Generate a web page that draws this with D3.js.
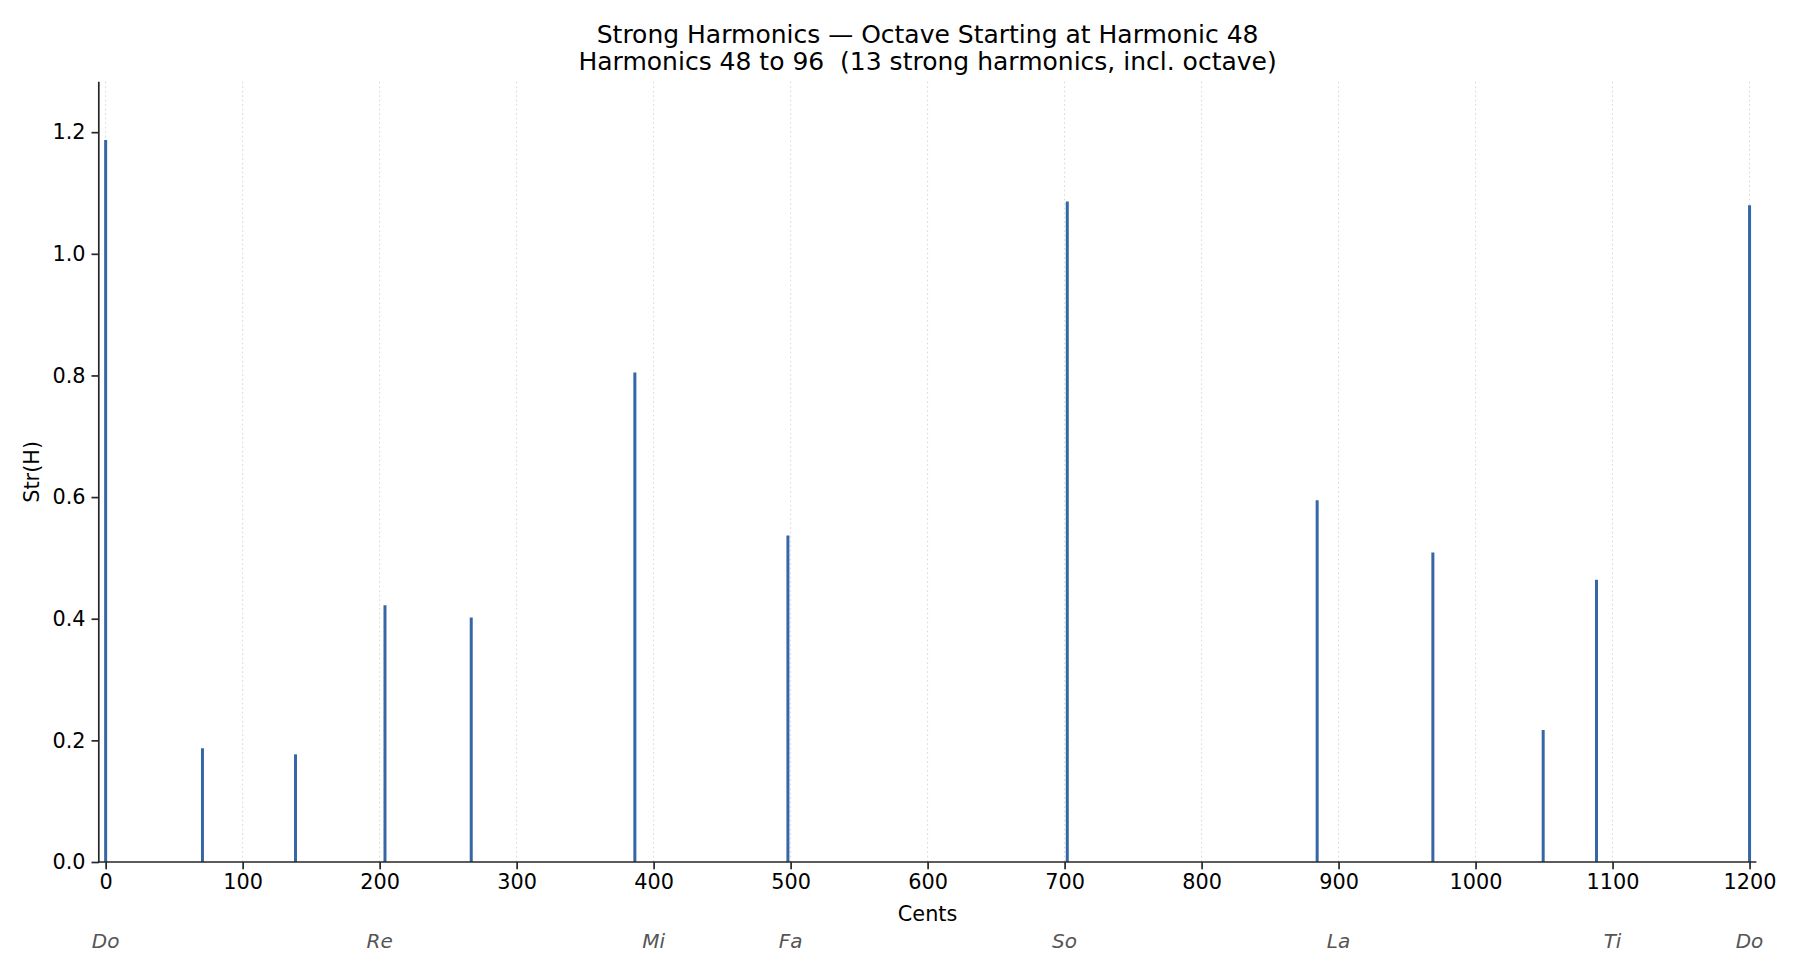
<!DOCTYPE html>
<html>
<head>
<meta charset="utf-8">
<script src="https://cdn.jsdelivr.net/npm/d3@7"></script>
<style>
  html, body { margin: 0; padding: 0; background: #fff; }
  svg { display: block; font-family: "DejaVu Sans", sans-serif; }
</style>
</head>
<body>
<svg id="chart" width="1800" height="975"></svg>
<script>
// ---- data ----
const harmonics = [48, 50, 52, 54, 56, 60, 64, 72, 80, 84, 88, 90, 96];
const cents = [0, 70.67, 138.57, 203.91, 266.87, 386.31, 498.04, 701.96, 884.36, 968.83, 1049.36, 1088.27, 1200];
const strength = [1.187, 0.187, 0.177, 0.422, 0.402, 0.805, 0.537, 1.086, 0.595, 0.509, 0.217, 0.464, 1.080];
const xTicks = [0, 100, 200, 300, 400, 500, 600, 700, 800, 900, 1000, 1100, 1200];
const yTicks = [0.0, 0.2, 0.4, 0.6, 0.8, 1.0, 1.2];
const noteNames = ["Do", "Re", "Mi", "Fa", "So", "La", "Ti", "Do"];
const notePositions = [0, 200, 400, 500, 700, 900, 1100, 1200];
const titleLines = ["Strong Harmonics \u2014 Octave Starting at Harmonic 48",
                    "Harmonics 48 to 96  (13 strong harmonics, incl. octave)"];

(function () {
// ---- layout ----
const svg = d3.select("#chart");
const pL = 98.8, pR = 1756.4, pT = 81.7, pB = 862;

const x = d3.scaleLinear().domain([-5, 1205]).range([pL, pR]);
const y = d3.scaleLinear().domain([0, 1.283]).range([pB, pT]);

// grid (vertical, dotted)
svg.append("g").selectAll("line").data(xTicks).join("line")
  .attr("x1", d => x(d)).attr("x2", d => x(d))
  .attr("y1", pT).attr("y2", pB)
  .attr("stroke", "#d9d9d9").attr("stroke-width", 1)
  .attr("stroke-dasharray", "1.7,2.8");

// stems
svg.append("g").selectAll("line").data(cents).join("line")
  .attr("x1", d => x(d)).attr("x2", d => x(d))
  .attr("y1", y(0)).attr("y2", (d, i) => y(strength[i]))
  .attr("stroke", "#3567a6").attr("stroke-width", 3);

// axes
const xAxis = d3.axisBottom(x).tickValues(xTicks).tickFormat(d3.format("d"))
  .tickSizeInner(7.3).tickSizeOuter(0).tickPadding(5);
const yAxis = d3.axisLeft(y).tickValues(yTicks).tickFormat(d3.format(".1f"))
  .tickSizeInner(7.3).tickSizeOuter(0).tickPadding(6);

const gx = svg.append("g").attr("transform", `translate(0,${pB})`).call(xAxis);
const gy = svg.append("g").attr("transform", `translate(${pL},0)`).call(yAxis);

[gx, gy].forEach(g => {
  g.select(".domain").attr("stroke", "#262626").attr("stroke-width", 1.7);
  g.selectAll(".tick line").attr("stroke", "#262626").attr("stroke-width", 1.7);
  g.selectAll(".tick text").attr("fill", "#000").style("font-size", "20.8px")
    .style("font-family", "'DejaVu Sans', sans-serif");
});
gx.select(".domain").attr("d", `M${pL - 0.85},0H${pR}`);
gy.select(".domain").attr("d", `M0,${pT}V${pB + 0.85}`);

// axis labels
svg.append("text").attr("x", (pL + pR) / 2).attr("y", 921)
  .attr("text-anchor", "middle").style("font-size", "20.8px").text("Cents");
svg.append("text").attr("transform", `translate(39,${(pT + pB) / 2}) rotate(-90)`)
  .attr("text-anchor", "middle").style("font-size", "20.8px").text("Str(H)");

// note names
svg.append("g").selectAll("text").data(noteNames).join("text")
  .attr("x", (d, i) => x(notePositions[i])).attr("y", 947.5)
  .attr("text-anchor", "middle")
  .style("font-size", "20px").style("font-style", "italic")
  .attr("fill", "#555555").text(d => d);

// title
svg.append("g").selectAll("text").data(titleLines).join("text")
  .attr("x", (pL + pR) / 2).attr("y", (d, i) => 43 + i * 27)
  .attr("text-anchor", "middle").style("font-size", "25px").attr("fill", "#000")
  .style("white-space", "pre").attr("xml:space", "preserve")
  .text(d => d);
})();
</script>
</body>
</html>
